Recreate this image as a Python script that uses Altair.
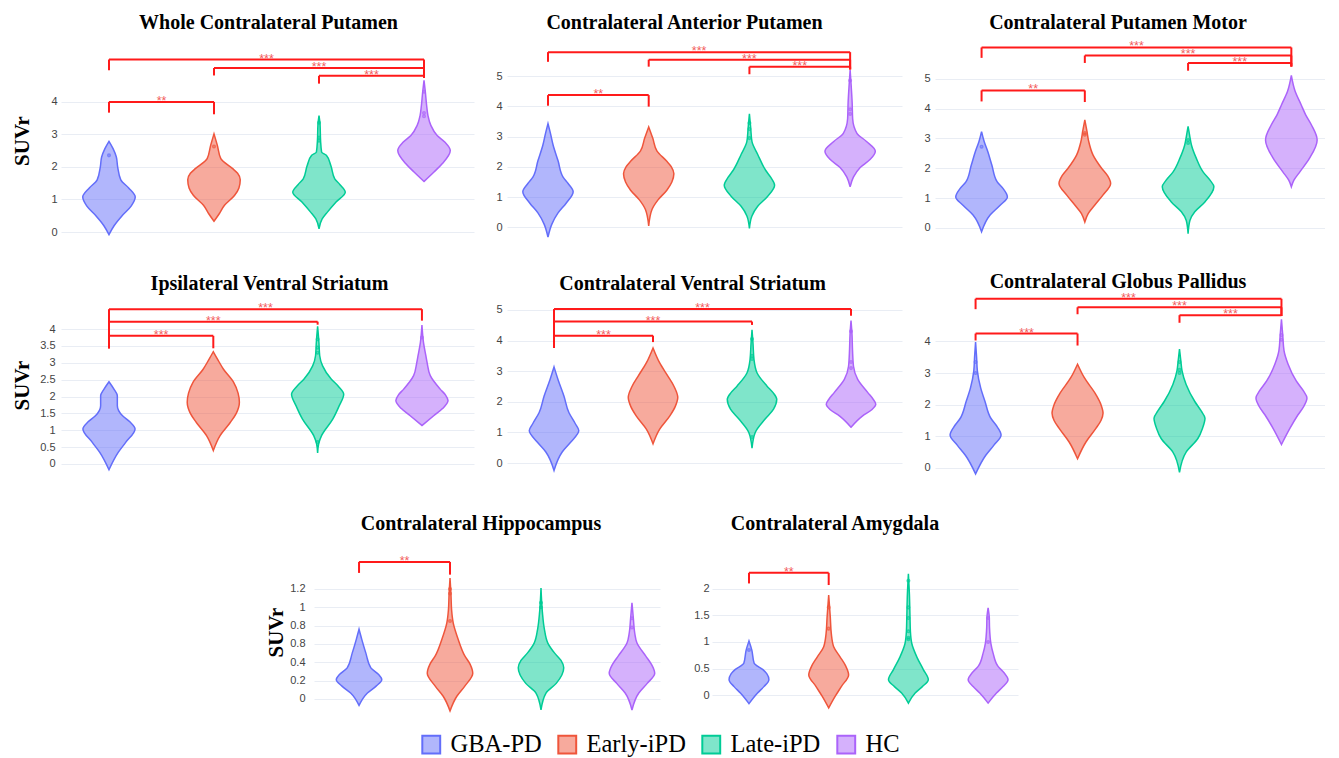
import altair as alt
import pandas as pd

GROUPS = ["GBA-PD", "Early-iPD", "Late-iPD", "HC"]
LINE_COLORS = ["#636efa", "#ef553b", "#00cc96", "#ab63fa"]
FILL_COLORS = ["rgba(99,110,250,0.5)", "rgba(239,85,59,0.5)", "rgba(0,204,150,0.5)", "rgba(171,99,250,0.5)"]
HALF = 0.25  # max half width of a violin, in group units

# ---- violin profiles: SUVr value (y) and relative width (w) ----
# Whole Contralateral Putamen
WCP_GBA_Y = [-0.08, 0.2, 0.5, 0.8, 1.07, 1.35, 1.6, 2.0, 2.3, 2.55, 2.78]
WCP_GBA_W = [0, 0.2, 0.5, 0.85, 1.0, 0.75, 0.45, 0.33, 0.28, 0.16, 0]
WCP_EAR_Y = [0.33, 0.56, 0.82, 1.12, 1.35, 1.6, 1.8, 1.95, 2.25, 2.65, 3.01]
WCP_EAR_W = [0, 0.2, 0.4, 0.78, 0.95, 1.0, 0.9, 0.7, 0.26, 0.13, 0]
WCP_LAT_Y = [0.1, 0.4, 0.61, 0.92, 1.22, 1.45, 1.63, 2.04, 2.35, 2.45, 2.8, 3.3, 3.57]
WCP_LAT_W = [0, 0.12, 0.32, 0.65, 1.0, 0.8, 0.6, 0.45, 0.28, 0.1, 0.06, 0.04, 0]
WCP_HC_Y = [1.55, 1.84, 2.1, 2.5, 2.75, 2.96, 3.27, 3.57, 3.88, 4.3, 4.65]
WCP_HC_W = [0, 0.38, 0.7, 1.0, 0.8, 0.5, 0.26, 0.15, 0.1, 0.05, 0]

# Contralateral Anterior Putamen
CAP_GBA_Y = [-0.32, 0.1, 0.48, 0.8, 1.18, 1.45, 1.66, 2.2, 2.73, 3.1, 3.43]
CAP_GBA_W = [0, 0.15, 0.4, 0.72, 1.0, 0.8, 0.6, 0.4, 0.2, 0.1, 0]
CAP_EAR_Y = [0.05, 0.59, 0.91, 1.23, 1.5, 1.77, 2.0, 2.2, 2.52, 2.95, 3.32]
CAP_EAR_W = [0, 0.13, 0.37, 0.72, 0.92, 1.0, 0.9, 0.7, 0.33, 0.16, 0]
CAP_LAT_Y = [-0.03, 0.38, 0.7, 1.02, 1.39, 1.65, 1.88, 2.41, 2.84, 3.3, 3.75]
CAP_LAT_W = [0, 0.1, 0.33, 0.72, 1.0, 0.85, 0.65, 0.33, 0.1, 0.05, 0]
CAP_HC_Y = [1.34, 1.66, 1.98, 2.25, 2.52, 2.84, 3.11, 3.59, 4.13, 4.7, 5.2]
CAP_HC_W = [0, 0.13, 0.4, 0.8, 1.0, 0.65, 0.27, 0.1, 0.08, 0.04, 0]

# Contralateral Putamen Motor
CPM_GBA_Y = [-0.13, 0.43, 0.76, 1.04, 1.3, 1.55, 2.1, 2.56, 2.9, 3.23]
CPM_GBA_W = [0, 0.33, 0.72, 1.0, 0.85, 0.6, 0.4, 0.24, 0.1, 0]
CPM_EAR_Y = [0.2, 0.48, 0.76, 1.1, 1.49, 1.75, 2.0, 2.44, 2.9, 3.25, 3.62]
CPM_EAR_W = [0, 0.13, 0.38, 0.7, 1.0, 0.88, 0.65, 0.32, 0.15, 0.08, 0]
CPM_LAT_Y = [-0.19, 0.25, 0.54, 0.87, 1.38, 1.6, 1.88, 2.33, 2.78, 3.1, 3.4]
CPM_LAT_W = [0, 0.07, 0.26, 0.65, 1.0, 0.85, 0.58, 0.32, 0.13, 0.06, 0]
CPM_HC_Y = [1.38, 1.6, 1.88, 2.33, 2.95, 3.45, 3.8, 4.13, 4.57, 5.11]
CPM_HC_W = [0, 0.1, 0.33, 0.7, 1.0, 0.78, 0.55, 0.38, 0.15, 0]

# Ipsilateral Ventral Striatum
IVS_GBA_Y = [-0.17, 0.35, 0.64, 1.04, 1.25, 1.43, 1.73, 2.02, 2.22, 2.44]
IVS_GBA_W = [0, 0.36, 0.64, 1.0, 0.8, 0.52, 0.32, 0.32, 0.19, 0]
IVS_EAR_Y = [0.4, 0.84, 1.23, 1.5, 1.83, 2.1, 2.42, 2.81, 3.11, 3.33]
IVS_EAR_W = [0, 0.26, 0.65, 0.88, 1.0, 0.95, 0.78, 0.39, 0.16, 0]
IVS_LAT_Y = [0.33, 0.6, 0.84, 1.33, 1.73, 2.07, 2.3, 2.52, 2.91, 3.21, 3.6, 4.08]
IVS_LAT_W = [0, 0.04, 0.15, 0.58, 0.83, 1.0, 0.8, 0.52, 0.19, 0.08, 0.05, 0]
IVS_HC_Y = [1.14, 1.43, 1.65, 1.88, 2.05, 2.22, 2.62, 3.0, 3.21, 3.6, 4.12]
IVS_HC_W = [0, 0.45, 0.8, 1.0, 0.9, 0.7, 0.32, 0.2, 0.15, 0.06, 0]

# Contralateral Ventral Striatum
CVS_GBA_Y = [-0.24, 0.36, 0.68, 1.06, 1.3, 1.65, 2.19, 2.73, 3.14]
CVS_GBA_W = [0, 0.33, 0.67, 1.0, 0.85, 0.6, 0.4, 0.16, 0]
CVS_EAR_Y = [0.63, 1.11, 1.54, 1.85, 2.14, 2.5, 2.84, 3.27, 3.76]
CVS_EAR_W = [0, 0.27, 0.68, 0.9, 1.0, 0.85, 0.6, 0.27, 0]
CVS_LAT_Y = [0.49, 1.0, 1.44, 1.76, 2.08, 2.3, 2.52, 2.95, 3.38, 3.9, 4.35]
CVS_LAT_W = [0, 0.13, 0.53, 0.87, 1.0, 0.85, 0.6, 0.2, 0.08, 0.04, 0]
CVS_HC_Y = [1.17, 1.54, 1.75, 1.92, 2.1, 2.3, 2.73, 3.16, 3.7, 4.2, 4.65]
CVS_HC_W = [0, 0.47, 0.85, 1.0, 0.88, 0.68, 0.27, 0.1, 0.06, 0.04, 0]

# Contralateral Globus Pallidus
CGP_GBA_Y = [-0.19, 0.4, 0.72, 1.04, 1.3, 1.57, 2.1, 2.53, 3.07, 3.5, 3.98]
CGP_GBA_W = [0, 0.4, 0.72, 1.0, 0.85, 0.6, 0.37, 0.2, 0.07, 0.04, 0]
CGP_EAR_Y = [0.29, 0.82, 1.25, 1.5, 1.73, 2.0, 2.32, 2.86, 3.28]
CGP_EAR_W = [0, 0.33, 0.72, 0.92, 1.0, 0.92, 0.72, 0.26, 0]
CGP_LAT_Y = [-0.14, 0.5, 0.93, 1.25, 1.57, 1.8, 2.1, 2.64, 3.07, 3.4, 3.76]
CGP_LAT_W = [0, 0.26, 0.72, 0.9, 1.0, 0.85, 0.6, 0.26, 0.1, 0.05, 0]
CGP_HC_Y = [0.74, 1.25, 1.68, 1.95, 2.21, 2.45, 2.75, 3.28, 3.71, 4.2, 4.7]
CGP_HC_W = [0, 0.33, 0.65, 0.88, 1.0, 0.85, 0.58, 0.26, 0.1, 0.05, 0]

# Contralateral Hippocampus
CHI_GBA_Y = [-0.07, 0.065, 0.14, 0.21, 0.27, 0.34, 0.5, 0.65, 0.76]
CHI_GBA_W = [0, 0.37, 0.75, 1.0, 0.85, 0.52, 0.3, 0.12, 0]
CHI_EAR_Y = [-0.13, 0.03, 0.14, 0.28, 0.38, 0.47, 0.65, 0.83, 0.97, 1.15, 1.32]
CHI_EAR_W = [0, 0.3, 0.65, 1.0, 0.88, 0.65, 0.36, 0.14, 0.07, 0.04, 0]
CHI_LAT_Y = [-0.12, 0.065, 0.17, 0.34, 0.42, 0.5, 0.61, 0.76, 0.95, 1.21]
CHI_LAT_W = [0, 0.22, 0.67, 1.0, 0.88, 0.6, 0.3, 0.15, 0.06, 0]
CHI_HC_Y = [-0.12, 0.065, 0.17, 0.28, 0.38, 0.47, 0.61, 0.72, 0.88, 1.05]
CHI_HC_W = [0, 0.3, 0.67, 1.0, 0.85, 0.6, 0.22, 0.12, 0.06, 0]

# Contralateral Amygdala
CAM_GBA_Y = [-0.16, 0.04, 0.16, 0.29, 0.4, 0.48, 0.6, 0.85, 1.02]
CAM_GBA_W = [0, 0.43, 0.75, 1.0, 0.9, 0.7, 0.26, 0.14, 0]
CAM_EAR_Y = [-0.24, -0.02, 0.17, 0.38, 0.55, 0.72, 0.91, 1.16, 1.47, 1.88]
CAM_EAR_W = [0, 0.33, 0.65, 1.0, 0.85, 0.57, 0.25, 0.13, 0.08, 0]
CAM_LAT_Y = [-0.15, 0.04, 0.16, 0.29, 0.48, 0.72, 0.97, 1.2, 1.47, 1.9, 2.28]
CAM_LAT_W = [0, 0.34, 0.7, 1.0, 0.75, 0.42, 0.17, 0.1, 0.08, 0.05, 0]
CAM_HC_Y = [-0.15, 0.04, 0.16, 0.29, 0.42, 0.54, 0.79, 0.97, 1.28, 1.45, 1.64]
CAM_HC_W = [0, 0.42, 0.75, 1.0, 0.8, 0.5, 0.25, 0.14, 0.07, 0.06, 0]

# ---- individual points visible inside violins: (group index, SUVr) ----
WCP_PTS = [(0, 2.35), (1, 2.62), (2, 2.8), (2, 2.9), (2, 3.35), (3, 3.55), (3, 3.65), (3, 4.3)]
CAP_PTS = [(2, 2.95), (2, 3.25), (2, 3.45), (3, 3.75), (3, 3.9), (3, 4.85)]
CPM_PTS = [(0, 2.72), (1, 3.12), (1, 3.18), (2, 2.85), (2, 2.95)]
IVS_PTS = [(2, 0.65), (2, 3.3), (2, 3.45), (2, 3.7), (3, 3.75)]
CVS_PTS = [(2, 0.85), (2, 3.4), (2, 3.5), (2, 4.05), (3, 3.1), (3, 3.3), (3, 4.3)]
CGP_PTS = [(0, 3.0), (0, 3.35), (2, 3.0), (2, 3.1), (2, 3.35), (3, 4.05), (3, 4.2)]
CHI_PTS = [(1, 0.85), (1, 1.15), (1, 1.2), (2, 1.0), (2, 1.05), (3, 0.78), (3, 0.88)]
CAM_PTS = [(0, 0.85), (1, 1.25), (1, 1.65), (2, 1.05), (2, 1.08), (2, 1.2), (2, 1.45),
           (2, 1.65), (2, 2.15), (3, 1.0), (3, 1.45)]

# ---- significance brackets: (group a, group b, bar level, left leg end, right leg end, stars) ----
WCP_BR = [(0, 3, 5.29, 4.96, 4.73, "***"), (1, 3, 5.03, 4.80, 4.73, "***"),
          (2, 3, 4.79, 4.55, 4.73, "***"), (0, 1, 3.99, 3.66, 3.61, "**")]
CAP_BR = [(0, 3, 5.79, 5.47, 5.22, "***"), (1, 3, 5.54, 5.31, 5.22, "***"),
          (2, 3, 5.31, 5.06, 5.22, "***"), (0, 1, 4.37, 4.02, 3.99, "**")]
CPM_BR = [(0, 3, 6.05, 5.70, 5.41, "***"), (1, 3, 5.78, 5.53, 5.41, "***"),
          (2, 3, 5.53, 5.27, 5.41, "***"), (0, 1, 4.61, 4.24, 4.22, "**")]
IVS_BR = [(0, 3, 4.59, 3.43, 4.25, "***"), (0, 2, 4.22, 3.43, 4.13, "***"),
          (0, 1, 3.80, 3.43, 3.43, "***")]
CVS_BR = [(0, 3, 5.03, 3.76, 4.81, "***"), (0, 2, 4.62, 3.76, 4.51, "***"),
          (0, 1, 4.16, 3.76, 3.95, "***")]
CGP_BR = [(0, 3, 5.35, 5.02, 4.81, "***"), (1, 3, 5.08, 4.86, 4.81, "***"),
          (2, 3, 4.83, 4.59, 4.81, "***"), (0, 1, 4.25, 4.03, 3.87, "***")]
CHI_BR = [(0, 1, 1.495, 1.375, 1.356, "**")]
CAM_BR = [(0, 1, 2.30, 2.10, 2.07, "**")]

# ---- axis tick values ----
TICKS_0_4 = [0, 1, 2, 3, 4]
TICKS_0_5 = [0, 1, 2, 3, 4, 5]
TICKS_HALF_4 = [0, 0.5, 1, 1.5, 2, 2.5, 3, 3.5, 4]
TICKS_HIP = [0, 0.2, 0.4, 0.6, 0.8, 1, 1.2]
TICKS_AMY = [0, 0.5, 1, 1.5, 2]

SERIF = "Liberation Serif"
SANS = "Liberation Sans"


def panel(title, profiles, points, brackets, ydom, xdom, ticks, width, height,
          title_dx, title_offset, ytitle=None, label_pad=5, extent=None, label_expr=None):
    rows = []
    for gi, (ys, ws) in enumerate(profiles):
        for y, w in zip(ys, ws):
            rows.append({"group": GROUPS[gi], "y": y,
                         "xl": gi - HALF * w, "xr": gi + HALF * w})
    vdf = pd.DataFrame(rows)
    pdf = pd.DataFrame([{"group": GROUPS[g], "px": g, "py": v} for g, v in points])
    segs, stars = [], []
    for (a, b, bar, lb, rb, s) in brackets:
        segs.append({"bx": a, "bx2": a, "by": lb, "by2": bar})
        segs.append({"bx": a, "bx2": b, "by": bar, "by2": bar})
        segs.append({"bx": b, "bx2": b, "by": rb, "by2": bar})
        stars.append({"sx": (a + b) / 2, "sy": bar, "t": s})
    sdf = pd.DataFrame(segs)
    tdf = pd.DataFrame(stars)

    xs = alt.Scale(domain=xdom, nice=False, zero=False)
    ysc = alt.Scale(domain=ydom, nice=False, zero=False)
    ax_kw = dict(values=ticks, format="~g", labelPadding=label_pad,
                 title=ytitle if ytitle else None)
    if extent is not None:
        ax_kw["minExtent"] = extent
        ax_kw["maxExtent"] = extent
    if label_expr:
        ax_kw["labelExpr"] = label_expr
    yaxis = alt.Axis(**ax_kw)
    fill_enc = alt.Fill("group:N", scale=alt.Scale(domain=GROUPS, range=FILL_COLORS),
                        legend=alt.Legend(title=None))
    stroke_enc = alt.Stroke("group:N", scale=alt.Scale(domain=GROUPS, range=LINE_COLORS),
                            legend=alt.Legend(title=None))

    violins = alt.Chart(vdf).mark_area(
        orient="horizontal", interpolate="monotone", strokeWidth=1.5
    ).encode(
        y=alt.Y("y:Q", scale=ysc, axis=yaxis),
        x=alt.X("xl:Q", scale=xs, axis=None),
        x2="xr:Q",
        fill=fill_enc,
        stroke=stroke_enc,
    )
    dots = alt.Chart(pdf).mark_point(size=6, strokeWidth=1.6, opacity=0.7).encode(
        x=alt.X("px:Q", scale=xs, axis=None),
        y=alt.Y("py:Q", scale=ysc, axis=yaxis),
        stroke=stroke_enc,
    )
    rules = alt.Chart(sdf).mark_rule(color="#ff1a1a", strokeWidth=2).encode(
        x=alt.X("bx:Q", scale=xs, axis=None), x2="bx2:Q",
        y=alt.Y("by:Q", scale=ysc, axis=yaxis), y2="by2:Q",
    )
    txt = alt.Chart(tdf).mark_text(
        font=SANS, fontSize=12.5, color="#f25c5c", baseline="alphabetic", dy=3
    ).encode(
        x=alt.X("sx:Q", scale=xs, axis=None),
        y=alt.Y("sy:Q", scale=ysc, axis=yaxis),
        text="t:N",
    )
    return alt.layer(violins, dots, rules, txt).properties(
        width=width, height=height,
        title=alt.TitleParams(text=title, font=SERIF, fontSize=20, fontWeight="bold",
                              color="black", anchor="middle", frame="group",
                              offset=title_offset, dx=title_dx),
    )


H1, H2, H3 = 207, 182, 162
p1 = panel("Whole Contralateral Putamen",
           [(WCP_GBA_Y, WCP_GBA_W), (WCP_EAR_Y, WCP_EAR_W), (WCP_LAT_Y, WCP_LAT_W), (WCP_HC_Y, WCP_HC_W)],
           WCP_PTS, WCP_BR, [-0.368, 5.98], [-0.457, 3.476], TICKS_0_4, 413, H1, 1, 4,
           ytitle="SUVr", label_pad=4, extent=21)
p2 = panel("Contralateral Anterior Putamen",
           [(CAP_GBA_Y, CAP_GBA_W), (CAP_EAR_Y, CAP_EAR_W), (CAP_LAT_Y, CAP_LAT_W), (CAP_HC_Y, CAP_HC_W)],
           CAP_PTS, CAP_BR, [-0.548, 6.29], [-0.407, 3.515], TICKS_0_5, 395, H1, -20, 4)
p3 = panel("Contralateral Putamen Motor",
           [(CPM_GBA_Y, CPM_GBA_W), (CPM_EAR_Y, CPM_EAR_W), (CPM_LAT_Y, CPM_LAT_W), (CPM_HC_Y, CPM_HC_W)],
           CPM_PTS, CPM_BR, [-0.539, 6.40], [-0.451, 3.326], TICKS_0_5, 390, H1, -12, 4)
p4 = panel("Ipsilateral Ventral Striatum",
           [(IVS_GBA_Y, IVS_GBA_W), (IVS_EAR_Y, IVS_EAR_W), (IVS_LAT_Y, IVS_LAT_W), (IVS_HC_Y, IVS_HC_W)],
           IVS_PTS, IVS_BR, [-0.356, 5.04], [-0.460, 3.499], TICKS_HALF_4, 413, H2, 2, 0,
           ytitle="SUVr", label_pad=6, extent=21)
p5 = panel("Contralateral Ventral Striatum",
           [(CVS_GBA_Y, CVS_GBA_W), (CVS_EAR_Y, CVS_EAR_W), (CVS_LAT_Y, CVS_LAT_W), (CVS_HC_Y, CVS_HC_W)],
           CVS_PTS, CVS_BR, [-0.422, 5.52], [-0.475, 3.515], TICKS_0_5, 395, H2, -12, 0)
p6 = panel("Contralateral Globus Pallidus",
           [(CGP_GBA_Y, CGP_GBA_W), (CGP_EAR_Y, CGP_EAR_W), (CGP_LAT_Y, CGP_LAT_W), (CGP_HC_Y, CGP_HC_W)],
           CGP_PTS, CGP_BR, [-0.256, 5.5], [-0.398, 3.427], TICKS_0_4, 390, H2, -12, 0)
p7 = panel("Contralateral Hippocampus",
           [(CHI_GBA_Y, CHI_GBA_W), (CHI_EAR_Y, CHI_EAR_W), (CHI_LAT_Y, CHI_LAT_W), (CHI_HC_Y, CHI_HC_W)],
           CHI_PTS, CHI_BR, [-0.153, 1.614], [-0.495, 3.308], TICKS_HIP, 346, H3, -6, 17,
           ytitle="SUVr", label_pad=9, extent=20,
           label_expr="datum.value == 0.6 ? '0.8' : datum.label")
p8 = panel("Contralateral Amygdala",
           [(CAM_GBA_Y, CAM_GBA_W), (CAM_EAR_Y, CAM_EAR_W), (CAM_LAT_Y, CAM_LAT_W), (CAM_HC_Y, CAM_HC_W)],
           CAM_PTS, CAM_BR, [-0.336, 2.71], [-0.464, 3.375], TICKS_AMY, 306, H3, -30, 17, label_pad=3)

spacer = alt.Chart(pd.DataFrame({"v": [0]})).mark_point(size=1, opacity=0).encode(
    x=alt.value(50), y=alt.value(5)
).properties(width=171, height=10)

row1 = alt.hconcat(p1, p2, p3, spacing=21)
row2 = alt.hconcat(p4, p5, p6, spacing=21)
row3 = alt.hconcat(spacer, p7, p8, spacing=33)
upper = alt.vconcat(row1, row2, spacing=27)

chart = alt.vconcat(upper, row3, spacing=37).properties(
    padding={"left": 3, "top": 5, "right": 0, "bottom": 0}
).configure_view(stroke=None).configure_axisY(
    domain=False, ticks=False, gridColor="#e9edf4", gridWidth=1,
    labelFont=SANS, labelFontSize=11, labelColor="#444444",
    titleFont=SERIF, titleFontSize=21, titleFontWeight="bold", titleColor="black",
    titlePadding=8,
).configure_legend(
    orient="none", legendX=358, legendY=695, direction="horizontal",
    symbolType="square", symbolSize=320, symbolStrokeWidth=2,
    labelFont=SERIF, labelFontSize=24.5, labelColor="black",
    labelOffset=7, columnPadding=12, labelLimit=300,
)

chart.save("out.html", embed_options={"renderer": "svg", "actions": False})
